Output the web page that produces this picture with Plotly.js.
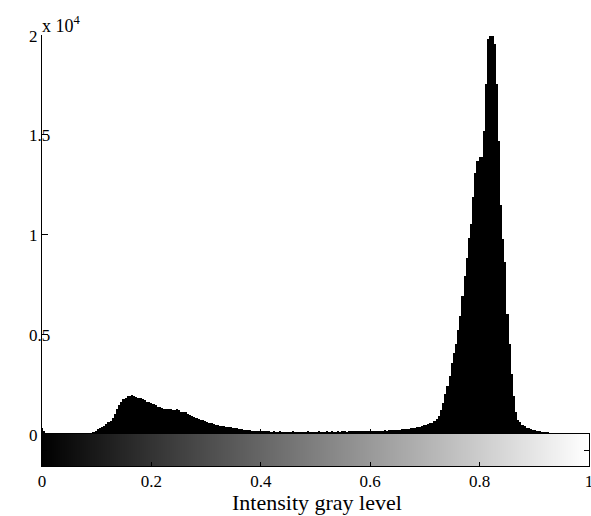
<!DOCTYPE html>
<html>
<head>
<meta charset="utf-8">
<script src="https://cdn.plot.ly/plotly-3.0.1.min.js"></script>
<style>html,body{margin:0;padding:0;background:#fff;}#chart{width:591px;height:516px;}</style>
</head>
<body>
<div id="chart"></div>
<script>
// 256 gray levels (bin centres i/255)
const grayLevels = Array.from({length: 256}, (_, i) => i / 255);

// Pixel counts per bin
const counts = [
  280,150,0,0,0,0,0,0,0,0,
  0,0,0,0,0,0,0,0,0,0,
  0,0,0,60,110,160,230,290,350,420,
  490,580,670,820,1000,1260,1470,1620,1760,1820,
  1880,1930,1960,1900,1850,1810,1790,1730,1680,1620,
  1580,1540,1480,1440,1370,1340,1290,1260,1250,1240,
  1240,1210,1200,1260,1190,1120,1110,1090,1010,960,
  900,840,800,740,720,680,650,600,570,530,
  490,460,440,420,400,380,370,350,330,310,
  290,280,260,240,220,200,190,180,170,160,
  150,145,140,150,135,130,140,125,130,120,
  125,130,115,120,125,110,120,130,115,120,
  110,125,120,115,130,120,110,125,120,130,
  115,120,125,130,120,135,125,120,130,125,
  130,135,125,140,130,135,145,130,140,150,
  140,150,145,160,150,165,160,170,175,170,
  180,175,185,190,200,195,210,220,230,245,
  260,270,290,300,320,340,370,400,430,470,
  520,540,560,650,750,900,1200,1550,2000,2400,
  2900,3570,4070,4500,5200,5900,6900,7900,8800,9800,
  10550,11860,13100,13670,13870,13900,15180,17540,19800,19950,
  19950,19550,17540,14670,11500,9750,8600,6000,4500,3000,
  1900,1100,700,580,450,380,320,290,260,220,
  180,150,130,120,100,90,80,65,55,50,
  45,40,30,25,20,15,10,8,5,3,
  0,0,0,0,0,0
];

const xTickVals = [0, 0.2, 0.4, 0.6, 0.8, 1];
const xTickText = ['0', '0.2', '0.4', '0.6', '0.8', '1'];
const yTickVals = [0, 5000, 10000, 15000, 20000];
const yTickText = ['0', '0.5', '1', '1.5', '2'];

const FONT = 'Liberation Serif, Times New Roman, serif';
const barH = 32 / 431;

const traces = [
  {
    type: 'bar',
    x: grayLevels,
    y: counts,
    width: 1 / 255,
    marker: {color: '#000', line: {width: 0}},
    xaxis: 'x2',
    yaxis: 'y',
    hoverinfo: 'skip'
  },
  {
    type: 'heatmap',
    x: grayLevels,
    y: [0],
    z: [grayLevels],
    colorscale: [[0, '#000000'], [1, '#ffffff']],
    showscale: false,
    xaxis: 'x',
    yaxis: 'y2',
    hoverinfo: 'skip'
  }
];

// y tick labels, left-aligned as in the reference
const yLabelAnnotations = yTickVals.map((v, k) => ({
  xref: 'paper', yref: 'y',
  x: -15 / 547, y: v,
  xanchor: 'left', yanchor: 'middle',
  text: yTickText[k],
  showarrow: false,
  font: {family: FONT, size: 17, color: '#000'},
  yshift: -1
}));

const layout = {
  width: 591,
  height: 516,
  margin: {l: 42, r: 2, t: 35, b: 50},
  paper_bgcolor: '#fff',
  plot_bgcolor: 'rgba(0,0,0,0)',
  showlegend: false,
  bargap: 0,
  font: {family: FONT, color: '#000', size: 16},
  xaxis: {
    domain: [0, 1],
    anchor: 'y2',
    range: [0, 1],
    tickvals: xTickVals,
    ticktext: xTickText,
    ticks: 'inside',
    ticklen: 4,
    tickcolor: '#000',
    ticklabelstandoff: 0,
    ticklabeloverflow: 'allow',
    showline: true,
    mirror: true,
    linecolor: '#000',
    linewidth: 1,
    showgrid: false,
    zeroline: false,
    tickfont: {family: FONT, size: 17, color: '#000'}
  },
  xaxis2: {
    domain: [0, 1],
    anchor: 'y',
    range: [0, 1],
    tickvals: xTickVals,
    ticks: 'inside',
    ticklen: 5,
    tickcolor: '#000',
    showticklabels: false,
    showline: false,
    showgrid: false,
    zeroline: false
  },
  yaxis: {
    domain: [barH, 1],
    anchor: 'x2',
    range: [0, 20000],
    tickvals: yTickVals,
    ticks: 'inside',
    ticklen: 6,
    tickcolor: '#000',
    showticklabels: false,
    showline: true,
    linecolor: '#000',
    linewidth: 1,
    showgrid: false,
    zeroline: false
  },
  yaxis2: {
    domain: [0, barH],
    anchor: 'x',
    range: [-0.5, 0.5],
    tickvals: [0],
    showticklabels: false,
    ticks: 'inside',
    ticklen: 5,
    tickcolor: '#000',
    showline: true,
    mirror: 'ticks',
    linecolor: '#000',
    linewidth: 1,
    showgrid: false,
    zeroline: false
  },
  annotations: yLabelAnnotations.concat([
    {
      xref: 'paper', yref: 'paper',
      x: 0, y: 1,
      xanchor: 'left', yanchor: 'bottom',
      text: 'x 10<sup>4</sup>',
      showarrow: false,
      font: {family: FONT, size: 18, color: '#000'},
      xshift: -2, yshift: -3
    },
    {
      xref: 'paper', yref: 'paper',
      x: 0.502, y: -36 / 431,
      xanchor: 'center', yanchor: 'middle',
      text: 'Intensity gray level',
      showarrow: false,
      font: {family: FONT, size: 22, color: '#000'}
    }
  ])
};

Plotly.newPlot('chart', traces, layout, {displayModeBar: false, staticPlot: true});
</script>
</body>
</html>
